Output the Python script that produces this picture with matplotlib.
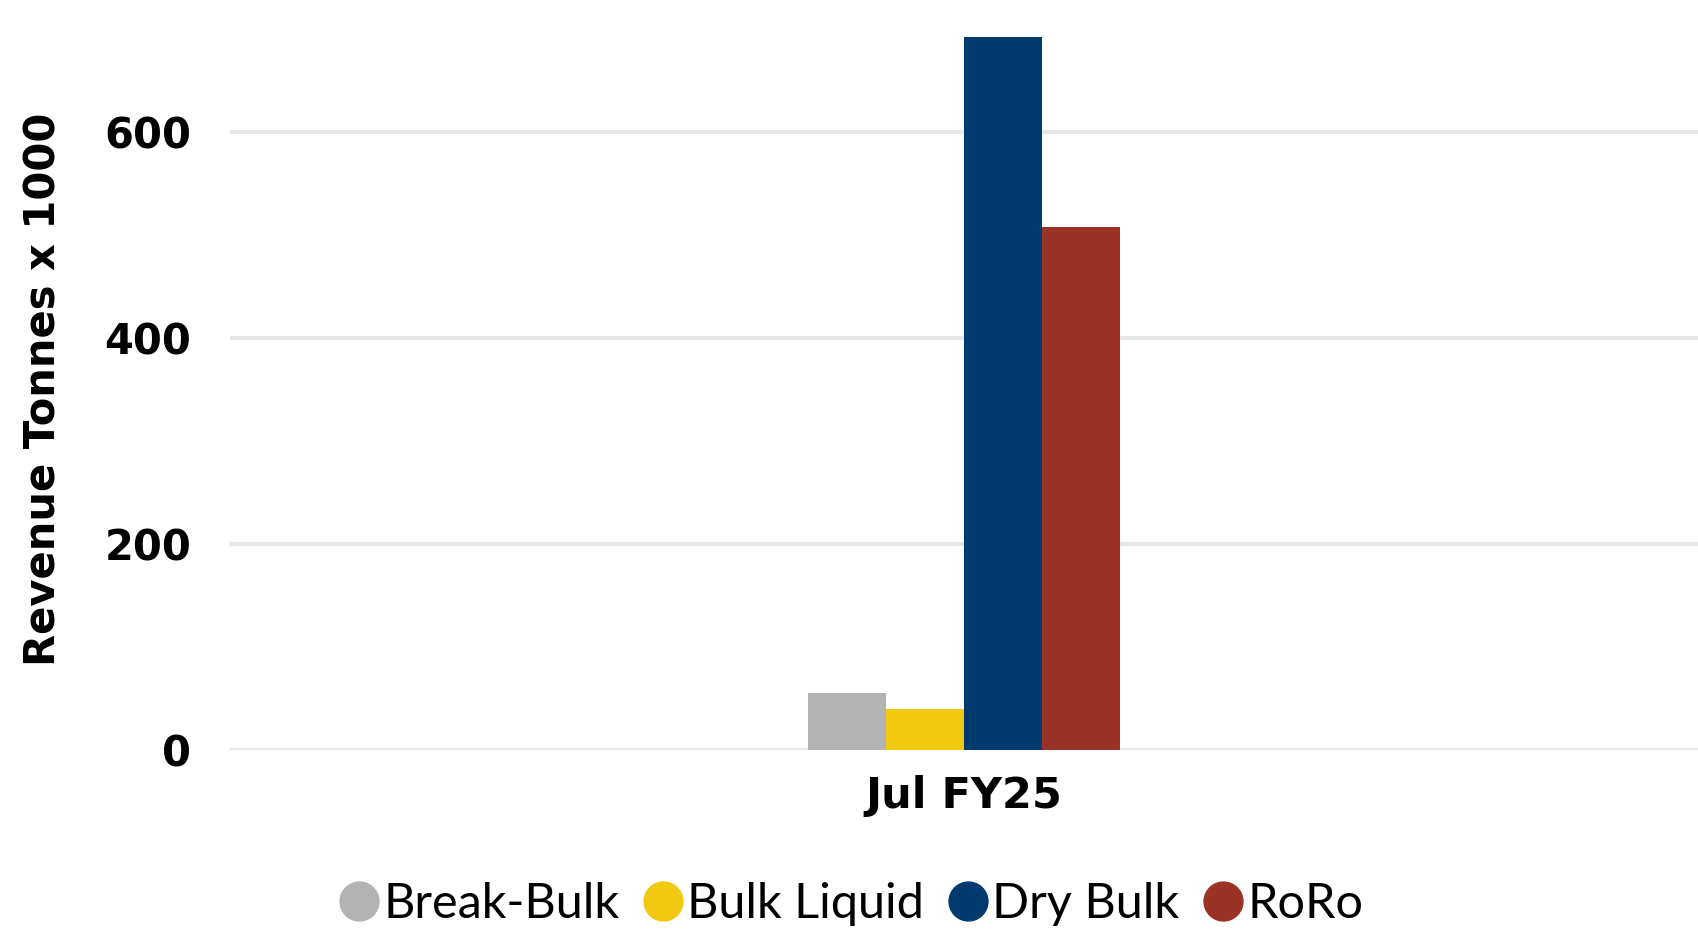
import matplotlib.pyplot as plt
from matplotlib.lines import Line2D
import numpy as np

# data
categories = ['Jul FY25']
series = ['Break-Bulk', 'Bulk Liquid', 'Dry Bulk', 'RoRo']
values = [55, 39, 692, 508]
colors = ['#B3B3B3', '#F1C911', '#023A70', '#9A3326']
yticks = [0, 200, 400, 600]

fig = plt.figure(figsize=(16.98, 9.30), dpi=100)
ax = fig.add_axes([0.1355, 0.194, 0.8645, 0.775])

bar_w = 0.053
x = np.arange(len(categories))
for i, (name, val, col) in enumerate(zip(series, values, colors)):
    ax.bar(x + (i - 1.5) * bar_w, [val], width=bar_w, color=col, zorder=3)

ax.set_xlim(-0.5, 0.5)
ax.set_ylim(0, 700)
ax.set_yticks(yticks)
ax.set_xticks(x)
ax.set_xticklabels(categories, fontsize=31, fontweight='bold', family='DejaVu Sans')
ax.set_yticklabels([str(t) for t in yticks], fontsize=30, fontweight='bold', family='DejaVu Sans')
ax.tick_params(axis='y', length=0, pad=28)
ax.tick_params(axis='x', length=0, pad=18)
ax.grid(axis='y', color='#E6E6E6', linewidth=3, zorder=0)
for s in ax.spines.values():
    s.set_visible(False)

ax.set_ylabel('Revenue Tonnes x 1000', fontsize=30, fontweight='bold', family='DejaVu Sans')
ax.yaxis.set_label_coords(-0.1125, 0.5)

handles = [Line2D([], [], marker='o', linestyle='', markersize=28, color=c) for c in colors]
fig.legend(handles, series, loc='center', bbox_to_anchor=(0.5, 0.028), ncol=4, frameon=False,
           prop={'family': ['Lato', 'DejaVu Sans'], 'size': 35},
           handletextpad=0.0, columnspacing=0.4, handlelength=1.0)

fig.savefig('out.png', dpi=100)
